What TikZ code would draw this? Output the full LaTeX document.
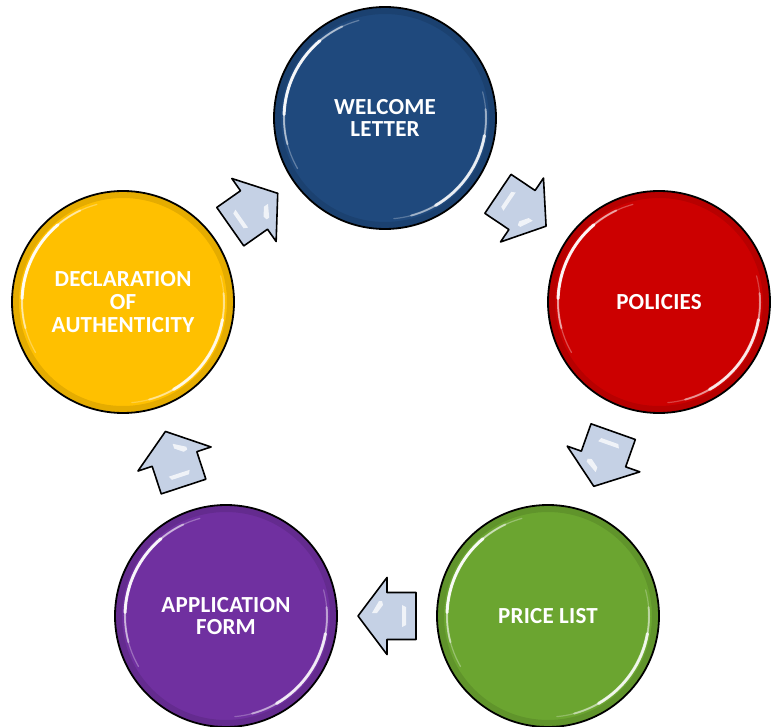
\documentclass[tikz,border=0pt]{standalone}
\usepackage{fontspec}
\newfontfamily\lblfont[LetterSpace=1]{Carlito}
\usetikzlibrary{calc}
\definecolor{cblue}{RGB}{31,73,125}
\definecolor{cred}{RGB}{204,0,0}
\definecolor{cgreen}{RGB}{107,165,48}
\definecolor{cpurple}{RGB}{112,48,160}
\definecolor{cyellow}{RGB}{255,192,0}
\definecolor{arrowfill}{RGB}{197,209,229}
\tikzset{
  disc/.style={circle, draw=black, line width=1.8pt, minimum size=222pt, inner sep=0pt,
    text=white, align=center, font=\lblfont\bfseries\fontsize{23}{22.6}\selectfont},
  blockarrow/.style={draw=black, line width=1.6pt, line join=round, fill=arrowfill},
  glint/.style={white, line cap=round},
  rim/.style={black, opacity=0.10, line width=6pt},
}
\newcommand\glossy[1]{%
  \draw[rim] (#1) circle[radius=107pt];
  \foreach \a/\b/\w/\o in {105/210/1.2/0.3, 115/195/2/0.5, 130/178/3/0.9,
                           -85/15/1.2/0.25, -75/5/2/0.45, -60/-10/3/0.8}{
    \draw[glint, line width=\w pt, opacity=\o] ($(#1)+(\a:101pt)$) arc[start angle=\a, end angle=\b, radius=101pt];
  }%
}
\newcommand\blockarr[3]{%
  \begin{scope}[shift={($(#1)!0.5!(#2)$)}, rotate=#3]
    \path[blockarrow] (-29,23.5) -- (0,23.5) -- (0,38.5) -- (29,0) -- (0,-38.5) -- (0,-23.5) -- (-29,-23.5) -- cycle;
    \fill[white, opacity=0.75] (15,-3) -- (10,-3) -- (4,-11) -- (5,-15) -- (8,-15) -- cycle;
    \fill[white, opacity=0.75] (-15,-11) -- (-19,-9) -- (-19,9) -- (-15,11) -- cycle;
  \end{scope}%
}
\begin{document}
\begin{tikzpicture}[x=1pt, y=1pt]
  \useasboundingbox (0,0) rectangle (771,-727);
  \node[disc, fill=cblue]   (welcome)  at (385,-118) {WELCOME\\LETTER};
  \node[disc, fill=cred]    (policies) at (659,-302) {POLICIES};
  \node[disc, fill=cgreen]  (price)    at (548,-616) {PRICE LIST};
  \node[disc, fill=cpurple] (appl)     at (226,-616) {APPLICATION\\FORM};
  \node[disc, fill=cyellow] (decl)     at (123,-302) {DECLARATION\\OF\\AUTHENTICITY};
  \glossy{welcome}
  \glossy{policies}
  \glossy{price}
  \glossy{appl}
  \glossy{decl}
  \blockarr{welcome}{policies}{-33.9}
  \blockarr{policies}{price}{-109.5}
  \blockarr{price}{appl}{180}
  \blockarr{appl}{decl}{108.2}
  \blockarr{decl}{welcome}{35.1}
\end{tikzpicture}
\end{document}
